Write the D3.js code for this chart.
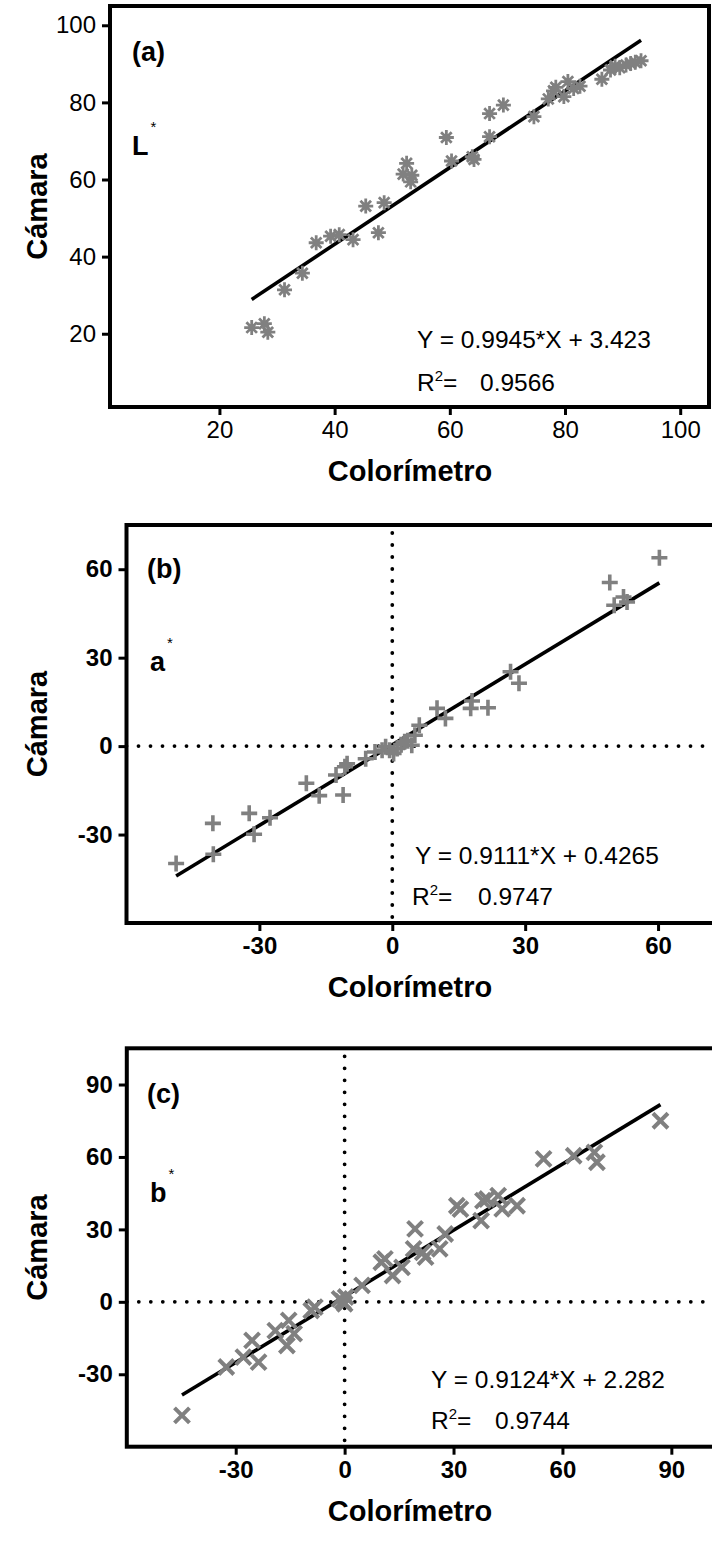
<!DOCTYPE html>
<html>
<head>
<meta charset="utf-8">
<script src="https://cdn.jsdelivr.net/npm/d3@7"></script>
<style>
  html, body { margin: 0; padding: 0; background: #fff; }
  svg { display: block; }
  text { font-family: "Liberation Sans", Arial, sans-serif; }
</style>
</head>
<body>
<svg id="chart" width="712" height="1542"></svg>
<script>
// ---------- DATA ----------
// Panel (a) L*
const aX = [25.6, 27.8, 28.4, 31.3, 34.4, 36.8, 39.3, 40.8, 43.2, 45.4, 47.6, 48.6, 52.5, 51.9, 53.4, 53.2,
            59.4, 60.3, 63.9, 64.2, 66.9, 66.9, 69.3, 74.6, 77.1, 78.4, 78.0, 79.8, 80.5, 81.5, 82.6,
            86.4, 87.9, 88.7, 90.6, 91.4, 93.2, 89.5, 92.2];
const aY = [21.6, 22.6, 20.4, 31.4, 35.7, 43.6, 45.3, 45.7, 44.4, 53.1, 46.2, 54.0, 64.2, 61.4, 61.1, 59.4,
            70.9, 64.8, 65.9, 65.2, 71.1, 77.1, 79.3, 76.3, 80.9, 83.9, 83.0, 81.5, 85.4, 83.6, 84.2,
            86.0, 88.4, 89.4, 89.7, 90.1, 90.8, 89.0, 90.4];
// Panel (b) a*
const bX = [60.3, 49.1, 50.1, 52.2, 53.0, 26.7, 28.6, 10.1, 12.0, 18.0, 17.7, 21.6, 6.1, 5.1, 2.8, 1.1,
            -0.6, 0.3, 4.4, -2.3, -3.9, -6.0, -10.2, -10.7, -12.7, -11.1, -19.4, -16.5, -32.3, -27.6,
            -31.2, -40.5, -40.4, -48.8, 2.0, -1.5, 3.5];
const bY = [63.9, 55.5, 47.8, 50.6, 48.9, 25.2, 21.3, 12.8, 9.4, 15.3, 12.8, 13.0, 7.1, 3.7, 1.5, -0.8,
            -1.4, -2.5, 0.3, -1.4, -2.0, -4.3, -6.0, -7.0, -9.8, -16.6, -12.6, -16.8, -22.8, -24.3,
            -29.9, -26.2, -36.7, -39.8, 0.5, -0.2, 1.8];
// Panel (c) b*
const cX = [-44.8, -32.6, -27.9, -25.5, -23.7, -19.1, -15.4, -15.9, -13.9, -9.2, -8.2, -1.4, -0.5, 0.3, 0.0,
            4.8, 10.1, 11.1, 13.2, 15.8, 19.4, 19.0, 21.5, 22.3, 26.2, 27.7, 30.9, 31.9, 37.6, 38.1,
            39.2, 42.3, 43.4, 47.5, 54.8, 63.1, 68.8, 69.5, 87.0];
const cY = [-47.0, -27.0, -22.9, -16.0, -25.0, -11.9, -7.7, -18.1, -13.2, -3.6, -2.2, 1.2, 0.2, 2.0, -0.8,
            6.8, 16.4, 17.8, 10.9, 14.3, 30.2, 21.9, 20.5, 18.5, 21.9, 28.1, 39.8, 38.4, 33.6, 41.9,
            42.6, 44.0, 38.5, 39.8, 59.2, 60.5, 61.9, 57.8, 75.0];

// Fit results
const fitA = { slope: 0.9945, intercept: 3.423, eq: "Y = 0.9945*X + 3.423", r2: "0.9566" };
const fitB = { slope: 0.9111, intercept: 0.4265, eq: "Y = 0.9111*X + 0.4265", r2: "0.9747" };
const fitC = { slope: 0.9124, intercept: 2.282, eq: "Y = 0.9124*X + 2.282", r2: "0.9744" };

// Ticks
const ticksA = [20, 40, 60, 80, 100];
const ticksB = [-30, 0, 30, 60];
const ticksC = [-30, 0, 30, 60, 90];

// Domains
const domainA = [1, 105];
const domainB = [-60, 75];
const domainC = [-60, 105];

// ---------- LAYOUT ----------
const svg = d3.select("#chart");
const GRAY = "#808080";

const panels = [
  { xs: aX, ys: aY, fit: fitA, ticks: ticksA, domain: domainA, left: 110, top: 6, w: 599, h: 401,
    tag: "(a)", varName: "L", marker: "asterisk", boldTicks: false, zeroLines: false,
    tagPos: [132, 61], varPos: [132, 155], eqPos: [417, 348], r2Pos: [417, 391], r2ValX: 480 },
  { xs: bX, ys: bY, fit: fitB, ticks: ticksB, domain: domainB, left: 126.5, top: 525, w: 598, h: 398,
    tag: "(b)", varName: "a", marker: "plus", boldTicks: true, zeroLines: true,
    tagPos: [147, 578], varPos: [150, 671], eqPos: [415, 864], r2Pos: [412, 905], r2ValX: 478 },
  { xs: cX, ys: cY, fit: fitC, ticks: ticksC, domain: domainC, left: 126.8, top: 1048.3, w: 599, h: 398.4,
    tag: "(c)", varName: "b", marker: "cross", boldTicks: true, zeroLines: true,
    tagPos: [147, 1103], varPos: [150, 1202], eqPos: [431, 1388], r2Pos: [431, 1429], r2ValX: 495 }
];

function markerPath(type) {
  const p = d3.path();
  if (type === "asterisk") {
    const r = 7.5;
    for (let k = 0; k < 4; k++) {
      const a = k * Math.PI / 4;
      p.moveTo(-r * Math.cos(a), -r * Math.sin(a));
      p.lineTo(r * Math.cos(a), r * Math.sin(a));
    }
  } else if (type === "plus") {
    const r = 8;
    p.moveTo(-r, 0); p.lineTo(r, 0);
    p.moveTo(0, -r); p.lineTo(0, r);
  } else {
    const r = 7.5;
    p.moveTo(-r, -r); p.lineTo(r, r);
    p.moveTo(-r, r); p.lineTo(r, -r);
  }
  return p.toString();
}

panels.forEach(P => {
  const x = d3.scaleLinear().domain(P.domain).range([P.left, P.left + P.w]);
  const y = d3.scaleLinear().domain(P.domain).range([P.top + P.h, P.top]);
  const g = svg.append("g");

  // zero dotted lines
  if (P.zeroLines) {
    g.append("line").attr("x1", P.left).attr("x2", P.left + P.w)
      .attr("y1", y(0)).attr("y2", y(0))
      .attr("stroke", "#000").attr("stroke-width", 3.8)
      .attr("stroke-linecap", "round").attr("stroke-dasharray", "0 12");
    g.append("line").attr("x1", x(0)).attr("x2", x(0))
      .attr("y1", P.top + 8).attr("y2", P.top + P.h)
      .attr("stroke", "#000").attr("stroke-width", 3.8)
      .attr("stroke-linecap", "round").attr("stroke-dasharray", "0 12");
  }

  // axes
  const fontW = P.boldTicks ? "bold" : "normal";
  const fmt = d => String(d);
  const xAxis = g.append("g").attr("transform", `translate(0,${P.top + P.h})`)
    .call(d3.axisBottom(x).tickValues(P.ticks).tickFormat(fmt).tickSize(8).tickPadding(6).tickSizeOuter(0));
  const yAxis = g.append("g").attr("transform", `translate(${P.left},0)`)
    .call(d3.axisLeft(y).tickValues(P.ticks).tickFormat(fmt).tickSize(8).tickPadding(6).tickSizeOuter(0));
  [xAxis, yAxis].forEach(ax => {
    ax.select(".domain").remove();
    ax.selectAll(".tick line").attr("stroke", "#000").attr("stroke-width", 3);
    ax.selectAll(".tick text")
      .attr("font-family", "'Liberation Sans', Arial, sans-serif")
      .attr("font-size", 24).attr("font-weight", fontW).attr("fill", "#000");
  });

  // fit line
  const ext = d3.extent(P.xs);
  g.append("line")
    .attr("x1", x(ext[0])).attr("y1", y(P.fit.slope * ext[0] + P.fit.intercept))
    .attr("x2", x(ext[1])).attr("y2", y(P.fit.slope * ext[1] + P.fit.intercept))
    .attr("stroke", "#000").attr("stroke-width", 3.6);

  // markers
  const mp = markerPath(P.marker);
  const sw = P.marker === "asterisk" ? 2.8 : (P.marker === "plus" ? 3.6 : 4);
  g.selectAll("path.pt").data(P.xs.map((v, i) => [v, P.ys[i]])).join("path")
    .attr("class", "pt")
    .attr("d", mp)
    .attr("transform", d => `translate(${x(d[0])},${y(d[1])})`)
    .attr("fill", "none").attr("stroke", GRAY).attr("stroke-width", sw);

  // frame
  g.append("rect").attr("x", P.left).attr("y", P.top).attr("width", P.w).attr("height", P.h)
    .attr("fill", "none").attr("stroke", "#000").attr("stroke-width", 4);

  // tag
  g.append("text").attr("x", P.tagPos[0]).attr("y", P.tagPos[1])
    .attr("font-size", 27).attr("font-weight", "bold").text(P.tag);
  // variable with superscript *
  const vt = g.append("text").attr("x", P.varPos[0]).attr("y", P.varPos[1])
    .attr("font-size", 27).attr("font-weight", "bold");
  vt.append("tspan").text(P.varName);
  vt.append("tspan").attr("dx", 2).attr("dy", -23).attr("font-size", 15).attr("font-weight", "normal").text("*");

  // equation
  g.append("text").attr("x", P.eqPos[0]).attr("y", P.eqPos[1])
    .attr("font-size", 24.5).text(P.fit.eq);
  const rt = g.append("text").attr("x", P.r2Pos[0]).attr("y", P.r2Pos[1]).attr("font-size", 24.5);
  rt.append("tspan").text("R");
  rt.append("tspan").attr("dy", -10).attr("font-size", 15).text("2");
  rt.append("tspan").attr("dy", 10).text("=");
  g.append("text").attr("x", P.r2ValX).attr("y", P.r2Pos[1]).attr("font-size", 24.5).text(P.fit.r2);

  // axis titles
  g.append("text")
    .attr("transform", `translate(47,${P.top + P.h / 2}) rotate(-90)`)
    .attr("text-anchor", "middle").attr("font-size", 29).attr("font-weight", "bold")
    .text("Cámara");
  g.append("text")
    .attr("x", 410).attr("y", P.top + P.h + 74)
    .attr("text-anchor", "middle").attr("font-size", 29).attr("font-weight", "bold")
    .text("Colorímetro");
});
</script>
</body>
</html>
